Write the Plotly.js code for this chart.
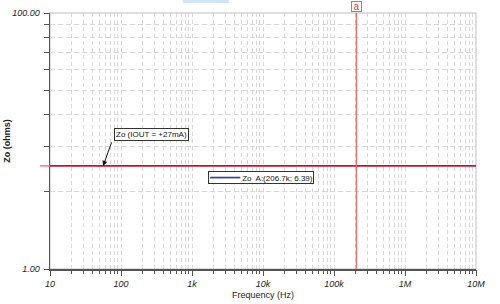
<!DOCTYPE html>
<html><head><meta charset="utf-8">
<script src="https://cdn.plot.ly/plotly-3.0.1.min.js"></script>
<style>html,body{margin:0;padding:0;background:#fff}#chart{width:500px;height:304px}</style>
</head><body><div id="chart"></div>
<script>
const freqHz = [10, 10000000];
const zoOhms = [6.39, 6.39];
const cursorFreq = 206700;
const cursorValue = 6.39;
const xMajorTicks = [10, 100, 1000, 10000, 100000, 1000000, 10000000];
const xMajorLabels = ['10', '100', '1k', '10k', '100k', '1M', '10M'];
const yGridTicks = [1, 4, 9, 16, 25, 36, 49, 64, 81, 100];
const yGridLabels = ['1.00', '', '', '', '', '', '', '', '', '100.00'];
const seriesLabel = 'Zo (IOUT = +27mA)';
const cursorName = 'a';

// minor tick table for the log x axis (digits 1..9 in each decade)
const xAllTicks = [];
for (let i = 0; i < xMajorTicks.length - 1; i++) {
  for (let d = 1; d <= 9; d++) xAllTicks.push(xMajorTicks[i] * d);
}
xAllTicks.push(xMajorTicks[xMajorTicks.length - 1]);

const FONT = 'Liberation Sans, Arial, sans-serif';
const axisCol = '#555555';

const traces = [
  { x: freqHz, y: zoOhms, mode: 'lines', xaxis: 'x', yaxis: 'y',
    line: { color: '#c41230', width: 1.6 }, hoverinfo: 'skip' },
  { x: [cursorFreq, cursorFreq], y: [yGridTicks[0], yGridTicks[yGridTicks.length - 1]],
    mode: 'lines', xaxis: 'x2', yaxis: 'y',
    line: { color: '#f26d6d', width: 1.4 }, hoverinfo: 'skip' }
];

const layout = {
  width: 500, height: 304,
  margin: { l: 50, r: 24, t: 13, b: 35, pad: 0 },
  paper_bgcolor: '#ffffff', plot_bgcolor: '#ffffff',
  showlegend: false,
  font: { family: FONT, size: 9, color: '#222' },
  xaxis: {
    type: 'log', range: [1, 7], fixedrange: true,
    tickvals: xAllTicks, ticktext: xAllTicks.map(() => ''),
    showgrid: true, gridcolor: '#d6d6d6', gridwidth: 1, griddash: '4px,3px',
    ticks: 'outside', ticklen: 3, tickcolor: axisCol, tickwidth: 1,
    showline: true, linecolor: axisCol, linewidth: 1.5, zeroline: false
  },
  xaxis2: {
    type: 'log', range: [1, 7], overlaying: 'x', side: 'bottom', anchor: 'y', fixedrange: true,
    tickvals: xMajorTicks, ticktext: xMajorLabels,
    showgrid: false, showline: false, zeroline: false,
    ticks: 'outside', ticklen: 6, tickcolor: axisCol, tickwidth: 1,
    tickfont: { family: FONT, size: 9, style: 'italic', color: '#222' },
    title: { text: 'Frequency (Hz)', font: { family: FONT, size: 9, color: '#222' }, standoff: 3 }
  },
  yaxis: {
    type: 'log', range: [0, 2], fixedrange: true,
    tickvals: yGridTicks, ticktext: yGridLabels,
    showgrid: true, gridcolor: '#d6d6d6', gridwidth: 1, griddash: '5px,3px',
    ticks: 'outside', ticklen: 5, tickcolor: axisCol, tickwidth: 1,
    showline: true, linecolor: axisCol, linewidth: 1.5, zeroline: false,
    tickfont: { family: FONT, size: 9, style: 'italic', color: '#222' },
    ticklabelstandoff: 2,
    title: { text: 'Zo (ohms)', font: { family: FONT, size: 9, color: '#222', weight: 'bold' }, standoff: 0 }
  },
  shapes: [
    { type: 'rect', xref: 'paper', yref: 'paper', x0: 0, x1: 1, y0: 0, y1: 1,
      line: { color: '#d4d4d4', width: 1.5 }, layer: 'below' },
    { type: 'rect', xref: 'paper', yref: 'paper', x0: 0.312, x1: 0.420, y0: 1.039, y1: 1.06,
      fillcolor: '#cfe5f7', line: { width: 0 } },
    { type: 'line', xref: 'paper', yref: 'y', x0: -0.0235, x1: 0, y0: cursorValue, y1: cursorValue,
      line: { color: '#f26d6d', width: 1.4 } }
  ],
  annotations: [
    { xref: 'paper', yref: 'paper', x: 0.150, y: 0.5006, xanchor: 'left', yanchor: 'bottom',
      text: seriesLabel, showarrow: false, font: { family: FONT, size: 8, color: '#111' },
      bgcolor: '#ffffff', bordercolor: '#333', borderwidth: 1, borderpad: 1 },
    { xref: 'x', yref: 'y', x: Math.log10(56), y: Math.log10(zoOhms[0]), text: '',
      showarrow: true, ax: 9, ay: -25, arrowhead: 2, arrowsize: 1, arrowwidth: 1,
      arrowcolor: '#111', standoff: 0 },
    { xref: 'paper', yref: 'paper', x: 0.371, y: 0.356, xanchor: 'left', yanchor: 'middle',
      text: '<span style="color:#3c3c96;font-size:10px">━━━━━</span> Zo  A:(' + (cursorFreq / 1000) + 'k; ' + cursorValue + ')',
      showarrow: false, font: { family: FONT, size: 8, color: '#111' },
      bgcolor: '#ffffff', bordercolor: '#333', borderwidth: 1, borderpad: 0 },
    { xref: 'x', yref: 'paper', x: Math.log10(cursorFreq), y: 1, xanchor: 'center', yanchor: 'bottom',
      yshift: 1, text: cursorName, showarrow: false, width: 9, height: 9,
      font: { family: FONT, size: 10, color: '#e03a3a' },
      bgcolor: '#ffffff', bordercolor: '#f06060', borderwidth: 1, borderpad: 0 }
  ]
};

Plotly.newPlot('chart', traces, layout, { displayModeBar: false, staticPlot: true });
</script>
</body></html>
